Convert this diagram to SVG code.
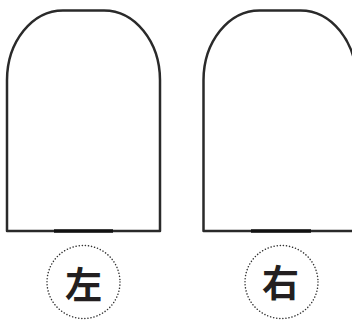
<svg xmlns="http://www.w3.org/2000/svg" width="352" height="320" viewBox="0 0 352 320">
<style>
.shape{fill:#fff;stroke:#2a2a2a;stroke-width:2.5;stroke-linejoin:round}
.base{stroke:#111;stroke-width:3.5}
.dot{fill:none;stroke:#333;stroke-width:1.5;stroke-linecap:round;stroke-dasharray:0.1 3}
.lbl{font-family:"Noto Sans CJK JP","Noto Sans CJK SC",sans-serif;font-weight:bold;font-size:37px;fill:#231f20;text-anchor:middle}
</style>
<rect width="352" height="320" fill="#fff"/>
<g id="left-shape">
<path class="shape" d="M7,231 V80 A56,70 0 0 1 63,10.5 H104 A56,70 0 0 1 160,80 V231 Z"/>
<line class="base" x1="54" y1="231" x2="113" y2="231"/>
</g>
<g id="right-shape">
<path class="shape" d="M203.5,231 V80 A56,70 0 0 1 259.5,10.5 H300.5 A56,70 0 0 1 356.5,80 V231 Z"/>
<line class="base" x1="251" y1="231" x2="311" y2="231"/>
</g>
<g id="left-label">
<circle class="dot" cx="83.5" cy="282" r="36.5"/>
<text class="lbl" x="83.5" y="299">左</text>
</g>
<g id="right-label">
<circle class="dot" cx="281.5" cy="282" r="36.5"/>
<text class="lbl" x="280.5" y="297">右</text>
</g>
</svg>
